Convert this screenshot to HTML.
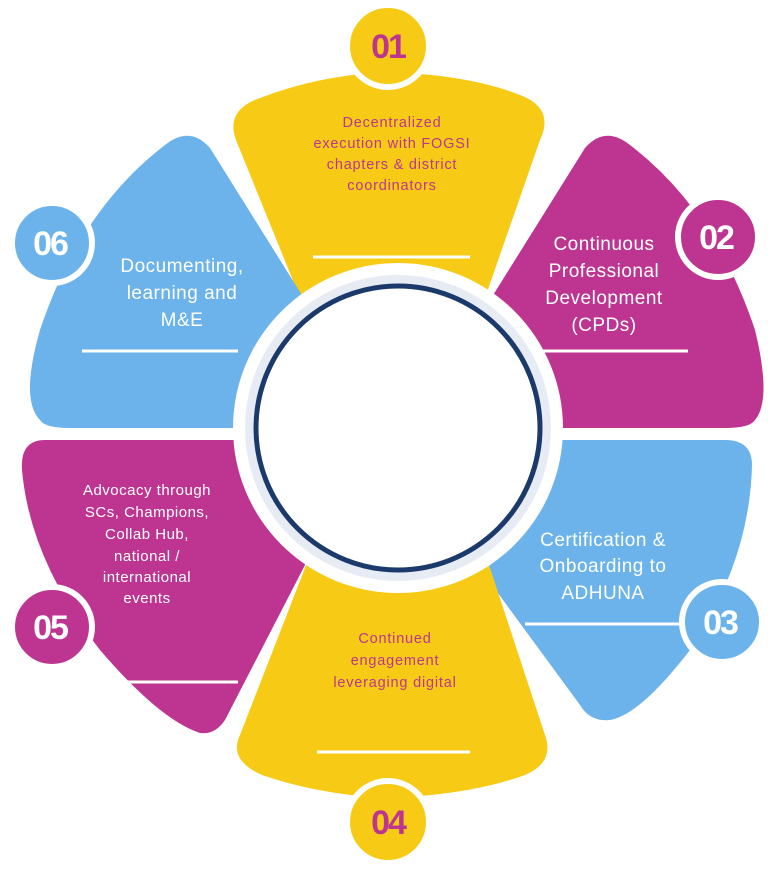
<!DOCTYPE html>
<html><head><meta charset="utf-8"><style>
html,body{margin:0;padding:0;background:#fff;}
svg{display:block;}
text{font-family:"Liberation Sans",sans-serif;}
</style></head><body>
<svg width="768" height="869" viewBox="0 0 768 869" xmlns="http://www.w3.org/2000/svg">
<!-- petals -->
<path fill="#f7cb15" d="M345 420 L300 298 L236 140 Q225 110 260 98 Q320 75 388 72 Q470 75 520 95 Q555 108 540 140 L485 298 L445 420 Z"/>
<path fill="#6bb3ea" d="M330 330 L305 300 L210 148 Q190 125 165 145 Q80 210 40 330 Q20 400 40 420 Q45 428 70 428 L330 428 Z"/>
<path fill="#bd3590" d="M466 330 L490 300 L585 148 Q605 125 630 145 Q715 210 755 330 Q772 400 755 420 Q750 428 725 428 L466 428 Z"/>
<path fill="#6bb3ea" d="M466 440 L725 440 Q752 440 752 465 Q750 560 690 650 Q640 715 610 720 Q590 722 580 705 L470 555 Z"/>
<path fill="#f7cb15" d="M345 440 L305 568 L240 735 Q228 760 262 775 Q320 795 388 798 Q470 795 525 775 Q555 762 545 735 L490 568 L450 440 Z"/>
<path fill="#bd3590" d="M330 440 L45 440 Q20 440 22 470 Q30 560 100 650 Q160 720 200 733 Q215 735 225 720 L305 565 Z"/>
<!-- center -->
<circle cx="398" cy="428" r="165" fill="#fff"/>
<circle cx="398" cy="428" r="153" fill="#e6ebf4"/>
<circle cx="398" cy="428" r="142" fill="#fff" stroke="#1b3a6b" stroke-width="5"/>
<!-- lines -->
<g stroke="#fff" stroke-width="3">
<line x1="313" y1="257" x2="470" y2="257"/>
<line x1="82" y1="351" x2="238" y2="351"/>
<line x1="532" y1="351" x2="688" y2="351"/>
<line x1="525" y1="624" x2="682" y2="624"/>
<line x1="317" y1="752" x2="470" y2="752"/>
<line x1="122" y1="682" x2="238" y2="682"/>
</g>
<!-- badges -->
<g stroke="#fff" stroke-width="6">
<circle cx="388" cy="46" r="41" fill="#f7cb15"/>
<circle cx="52" cy="243" r="40" fill="#6bb3ea"/>
<circle cx="718" cy="237" r="40" fill="#bd3590"/>
<circle cx="722" cy="622" r="40" fill="#6bb3ea"/>
<circle cx="52" cy="627" r="40" fill="#bd3590"/>
<circle cx="388" cy="822" r="41" fill="#f7cb15"/>
</g>
<g font-weight="bold" font-size="34" text-anchor="middle" letter-spacing="-2">
<text x="388" y="58" fill="#bd3590">01</text>
<text x="50" y="255" fill="#fff">06</text>
<text x="716" y="249" fill="#fff">02</text>
<text x="720" y="634" fill="#fff">03</text>
<text x="50" y="639" fill="#fff">05</text>
<text x="388" y="834" fill="#bd3590">04</text>
</g>
<!-- labels -->
<g font-size="14.5" fill="#bd3590" text-anchor="middle" letter-spacing="0.8">
<text x="392" y="127">Decentralized</text>
<text x="392" y="148">execution with FOGSI</text>
<text x="392" y="169">chapters &amp; district</text>
<text x="392" y="190">coordinators</text>
<text x="395" y="643">Continued</text>
<text x="395" y="665">engagement</text>
<text x="395" y="687">leveraging digital</text>
</g>
<g font-size="19" fill="#fff" text-anchor="middle" letter-spacing="0.5">
<text x="182" y="272">Documenting,</text>
<text x="182" y="299">learning and</text>
<text x="182" y="326">M&amp;E</text>
<text x="604" y="250">Continuous</text>
<text x="604" y="277">Professional</text>
<text x="604" y="304">Development</text>
<text x="604" y="331">(CPDs)</text>
<text x="603" y="546">Certification &amp;</text>
<text x="603" y="572">Onboarding to</text>
<text x="603" y="599">ADHUNA</text>
</g>
<g font-size="15" fill="#fff" text-anchor="middle" letter-spacing="0.5">
<text x="147" y="495">Advocacy through</text>
<text x="147" y="517">SCs, Champions,</text>
<text x="147" y="539">Collab Hub,</text>
<text x="147" y="561">national /</text>
<text x="147" y="582">international</text>
<text x="147" y="603">events</text>
</g>
</svg>
</body></html>
